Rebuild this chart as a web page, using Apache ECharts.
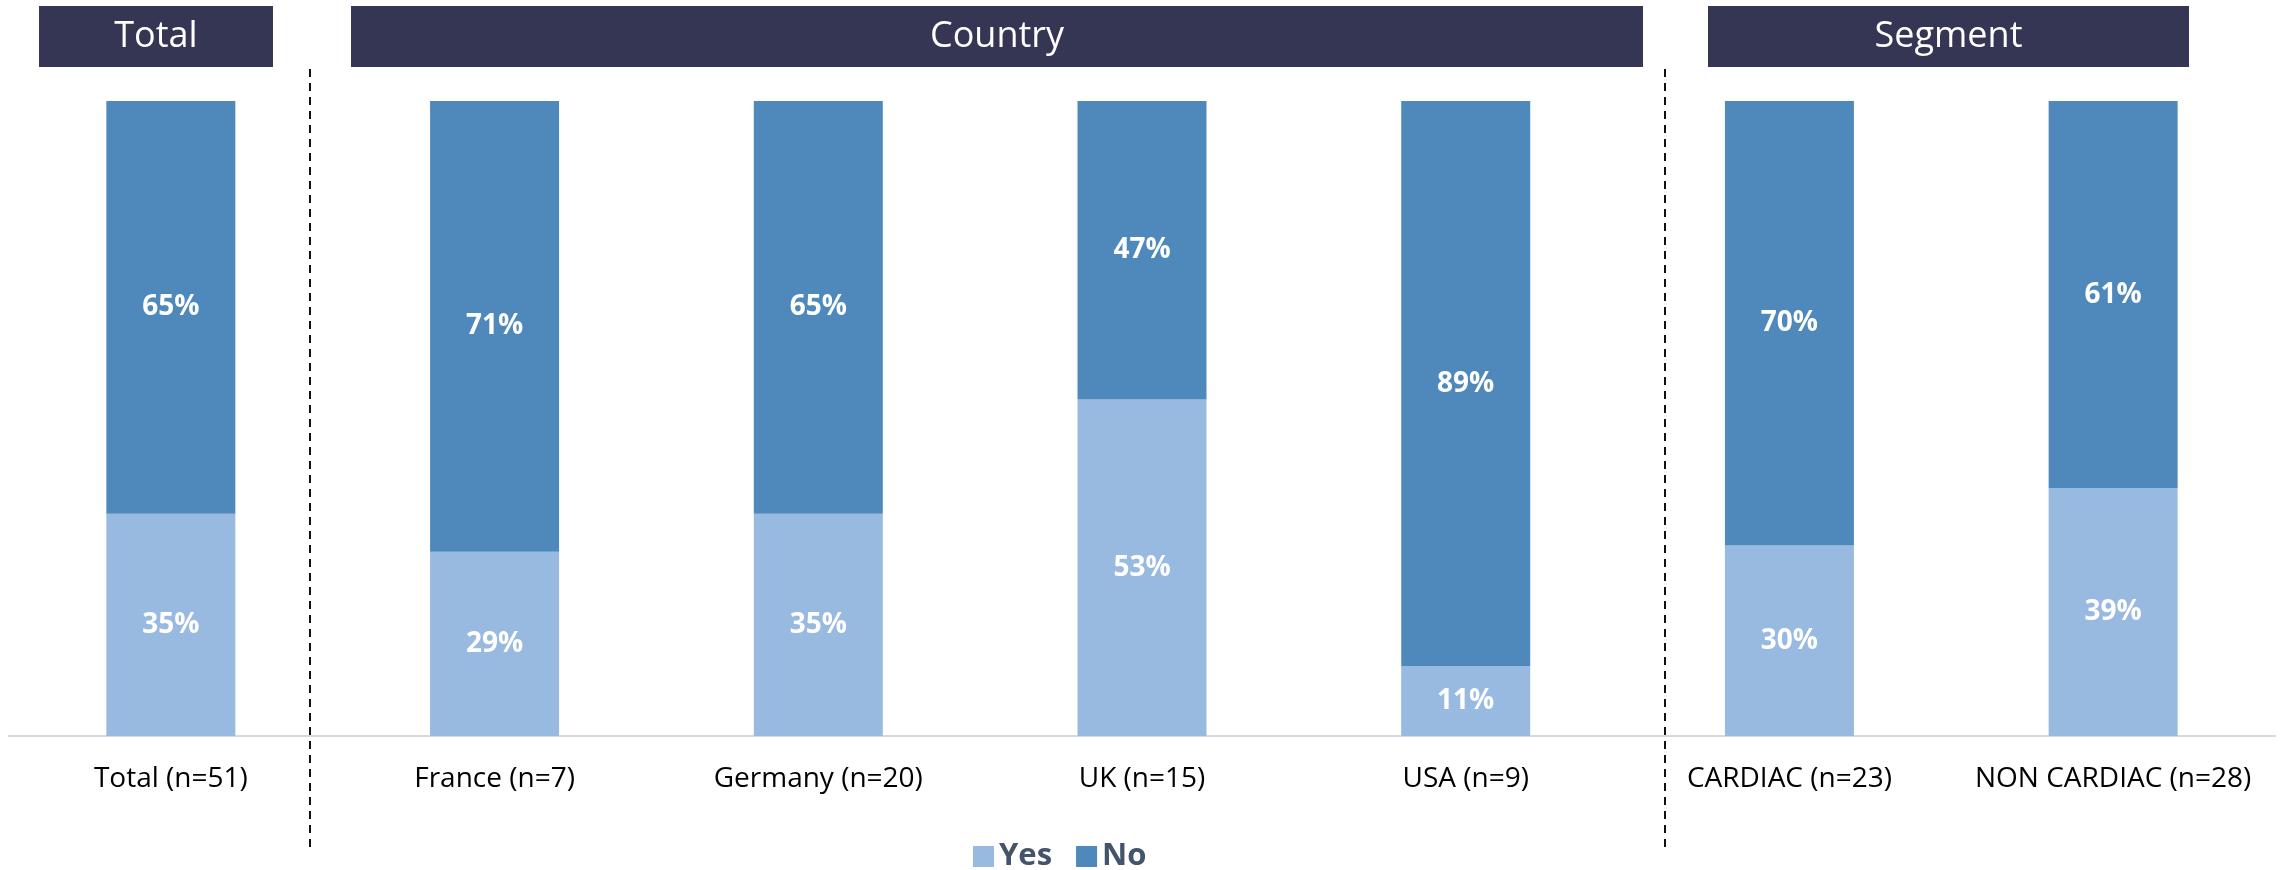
<!DOCTYPE html>
<html>
<head>
<meta charset="utf-8">
<title>Yes / No by group</title>
<script src="https://cdn.jsdelivr.net/npm/echarts@6/dist/echarts.min.js"></script>
<style>
    html, body { margin: 0; padding: 0; background: #fff; }
    #main { width: 2285px; height: 870px; }
</style>
</head>
<body>
<div id="main"></div>
<script>
// 分类 (x axis)
var categories = ['Total (n=51)', 'France (n=7)', 'Germany (n=20)', 'UK (n=15)', 'USA (n=9)', 'CARDIAC (n=23)', 'NON CARDIAC (n=28)'];
// 各组百分比
var yesValues = [35, 29, 35, 53, 11, 30, 39];
var noValues = [65, 71, 65, 47, 89, 70, 61];
var seriesNames = ['Yes', 'No'];
// 顶部分组标题
var groupTitles = ['Total', 'Country', 'Segment'];

var FONT = '"Open Sans", "Noto Sans", sans-serif';
var COLOR_YES = '#98B9E0';
var COLOR_NO = '#4F89BC';
var COLOR_HEAD = '#353654';

// 分组标题框 [left, right]
var headBoxes = [[39, 273], [351, 1643], [1708, 2189]];
// 虚线分隔 x
var dividers = [310, 1665];

var dom = document.getElementById('main');
var myChart = echarts.init(dom, null, {renderer: 'canvas'});

var graphics = [];
headBoxes.forEach(function (b, i) {
    graphics.push({
        type: 'rect',
        shape: {x: b[0], y: 6, width: b[1] - b[0], height: 61},
        style: {fill: COLOR_HEAD},
        silent: true
    });
    graphics.push({
        type: 'text',
        x: (b[0] + b[1]) / 2,
        y: 37,
        style: {
            text: groupTitles[i],
            fill: '#fff',
            font: '36px ' + FONT,
            textAlign: 'center',
            textVerticalAlign: 'middle'
        },
        silent: true
    });
});
dividers.forEach(function (x) {
    graphics.push({
        type: 'line',
        shape: {x1: x, y1: 69, x2: x, y2: 849},
        style: {stroke: '#111', lineWidth: 2, lineDash: [8, 6]},
        silent: true
    });
});

var barLabel = {
    show: true,
    position: 'inside',
    color: '#fff',
    fontFamily: FONT,
    fontWeight: 'bold',
    fontSize: 28,
    formatter: '{c}%'
};

var option = {
    animation: false,
    grid: {left: 9, right: 10, top: 101, bottom: 134},
    legend: {
        data: seriesNames,
        left: 968,
        top: 836,
        itemWidth: 21,
        itemHeight: 21,
        itemGap: 24,
        icon: 'rect',
        textStyle: {
            color: '#44546A',
            fontFamily: FONT,
            fontWeight: 'bold',
            fontSize: 31,
            padding: [0, 0, 0, 0]
        }
    },
    xAxis: {
        type: 'category',
        data: categories,
        axisLine: {lineStyle: {color: '#D9D9D9', width: 2}},
        axisTick: {show: false},
        axisLabel: {
            interval: 0,
            color: '#000',
            fontFamily: FONT,
            fontSize: 28,
            margin: 29
        }
    },
    yAxis: {
        type: 'value',
        min: 0,
        max: 100,
        show: false,
        splitLine: {show: false}
    },
    series: [
        {
            name: seriesNames[0],
            type: 'bar',
            stack: 'total',
            barWidth: 129,
            itemStyle: {color: COLOR_YES},
            label: barLabel,
            data: yesValues
        },
        {
            name: seriesNames[1],
            type: 'bar',
            stack: 'total',
            barWidth: 129,
            itemStyle: {color: COLOR_NO},
            label: barLabel,
            data: noValues
        }
    ],
    graphic: graphics
};

if (option && typeof option === 'object') {
    myChart.setOption(option, true);
}
</script>
</body>
</html>
